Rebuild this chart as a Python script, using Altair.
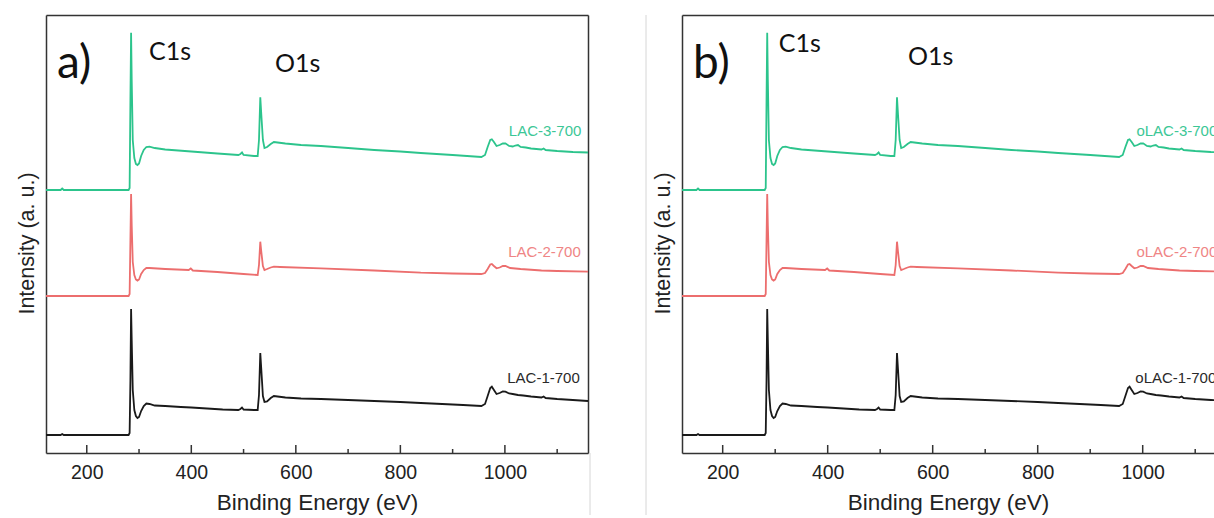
import altair as alt
import pandas as pd

# ---------------- data (binding energy in eV, intensity in a.u.) ----------------
# LAC-1-700 (black, bottom)
black_ev = [122, 150, 153, 156, 280, 282, 283.5, 284.8, 286, 288, 291, 294, 297, 300, 304, 309, 314, 320,
            330, 350, 380, 400, 430, 460, 490, 494, 497, 500, 520, 527, 529.5, 532, 534, 537, 540, 545, 552,
            558, 565, 580, 610, 648, 700, 750, 800, 839, 880, 920, 955, 962, 967, 972, 975, 979, 984, 990,
            996, 1001, 1008, 1015, 1025, 1035, 1050, 1070, 1074, 1078, 1100, 1130, 1159]
black_int = [18, 18, 19, 18, 18, 20, 73, 144, 113, 63, 43, 37, 35, 36, 42, 47, 49.5, 49,
             47.5, 47, 46, 45.5, 44.5, 43.5, 43, 44, 45.5, 43.5, 43, 43, 58, 100, 83, 57, 51, 51.5, 55,
             57, 56.5, 55.5, 54.5, 54, 53, 52, 51, 50, 49, 48, 47, 49, 57, 65, 66.3, 63, 59, 60,
             61.5, 61.3, 59.5, 59, 58, 57.5, 56.5, 55.5, 56.5, 55, 54, 53, 52]

# LAC-2-700 (red, middle)
red_ev = [122, 280, 282, 283.5, 284.8, 286, 288, 291, 294, 297, 300, 304, 309, 314, 320, 350, 395, 399,
          403, 450, 500, 527, 529.5, 532, 534, 537, 540, 545, 552, 558, 570, 648, 750, 839, 900, 955, 962,
          967, 972, 975, 979, 984, 990, 996, 1001, 1010, 1030, 1070, 1100, 1159]
red_int = [157, 157, 159, 213, 259, 228, 191, 178, 173.5, 172.3, 173.5, 179, 183, 185, 185, 184, 183, 184.5,
           182.5, 181, 179, 178, 188, 211.3, 201, 187, 183, 184, 185.5, 186.3, 186, 184.7, 182.5, 180.3, 179.5, 179, 180,
           184, 188.5, 189, 187, 184.7, 185.5, 187, 187, 185, 184, 182.5, 182, 181.3]

# LAC-3-700 (green, top)
green_ev = [122, 150, 153, 156, 280, 282, 283.5, 284.8, 286, 288, 291, 294, 297, 300, 304, 309, 314, 320,
            330, 350, 400, 450, 490, 494, 497, 500, 520, 527, 529.5, 532, 534, 537, 540, 545, 552, 558, 565,
            580, 610, 648, 700, 750, 800, 839, 900, 955, 962, 967, 972, 975, 979, 984, 990, 996, 1001, 1008,
            1015, 1020, 1025, 1030, 1040, 1050, 1070, 1074, 1078, 1100, 1130, 1159]
green_int = [263, 263, 264.5, 263, 263, 265, 353, 420.3, 373, 313, 295, 289, 288, 289.5, 297, 303, 306, 306.3,
             305, 303.5, 301.5, 299.5, 298, 299, 300.5, 298, 297, 297, 313, 355.7, 338, 313, 305, 306, 309, 311, 310.5,
             309.5, 308, 307, 305, 303, 301.5, 300, 298, 296, 298, 306, 313, 313.7, 311, 307, 308, 309.5, 309.7, 307,
             306.5, 307.5, 308, 306, 305.5, 304.5, 303.5, 304.5, 303, 302, 301, 300.5]

series_a = ["LAC-1-700", "LAC-2-700", "LAC-3-700"]
series_b = ["oLAC-1-700", "oLAC-2-700", "oLAC-3-700"]
line_colors = ["#1a1a1a", "#ec6e6e", "#2cc48c"]
label_colors = ["#2a2a2a", "#ef8585", "#3cc796"]

# series label anchors (eV, intensity)
label_ev_a = [1004.5, 1006.4, 1007.5]
label_ev_b = [986, 988, 988]
label_int = [75, 201, 322]

# peak annotations
annot_text_a = ["a)", "C1s", "O1s"]
annot_ev_a = [143, 319, 560]
annot_int_a = [375, 393, 381]
annot_text_b = ["b)", "C1s", "O1s"]
annot_ev_b = [143.5, 307, 553]
annot_int_b = [375, 401, 388]
annot_size = [46, 25, 25]

major_ticks = [200, 400, 600, 800, 1000]
minor_ticks = [300, 500, 700, 900, 1100]

W_A, W_B, H = 542, 532, 438
X_A = [122, 1159]
X_B = [122.5, 1135.8]
Y_DOM = [0, 438]

FONT = "Liberation Sans"
AX = "#333333"


def lines_frame(names):
    rows = []
    for name, evs, ints in zip(names, [black_ev, red_ev, green_ev], [black_int, red_int, green_int]):
        for e, v in zip(evs, ints):
            rows.append({"series": name, "ev": e, "intensity": v})
    return pd.DataFrame(rows)


def panel(names, label_ev, a_text, a_ev, a_int, xdom, width, right_frame, sep_x, sep_y1, sep_y2):
    xs = alt.Scale(domain=xdom, nice=False, zero=False)
    ys = alt.Scale(domain=Y_DOM, nice=False, zero=False)
    bottom_axis = alt.Axis(orient="bottom", values=major_ticks, format="d", ticks=False, tickSize=0,
                           grid=False, domain=True, domainColor=AX, domainWidth=1.5, labelFont=FONT,
                           labelFontSize=19.5, labelColor="#222222", labelPadding=10, labelFlush=False,
                           labelOverlap=False, title="Binding Energy (eV)", titleFont=FONT,
                           titleFontSize=22.5, titleFontWeight="normal", titleColor="#222222",
                           titlePadding=10)
    left_axis = alt.Axis(orient="left", labels=False, ticks=False, grid=False, domain=True,
                         domainColor=AX, domainWidth=1.5, title="Intensity (a. u.)", titleFont=FONT,
                         titleFontSize=21.5, titleFontWeight="normal", titleColor="#222222",
                         titlePadding=8, titleY=228)
    top_axis = alt.Axis(orient="top", labels=False, ticks=False, grid=False, domain=True,
                        domainColor=AX, domainWidth=1.5, title=None)
    right_axis = alt.Axis(orient="right", labels=False, ticks=False, grid=False, domain=True,
                          domainColor=AX, domainWidth=1.5, title=None)

    df = lines_frame(names)
    lines = alt.Chart(df).mark_line(strokeWidth=1.8, clip=True).encode(
        x=alt.X("ev:Q", scale=xs, axis=bottom_axis),
        y=alt.Y("intensity:Q", scale=ys, axis=left_axis),
        color=alt.Color("series:N", scale=alt.Scale(domain=names, range=line_colors), legend=None),
    )

    major = alt.Chart(pd.DataFrame({"v": major_ticks})).mark_rule(color=AX, strokeWidth=1.5).encode(
        x=alt.X("v:Q", scale=xs, axis=top_axis), y=alt.value(H - 8), y2=alt.value(H))
    minor = alt.Chart(pd.DataFrame({"v": minor_ticks})).mark_rule(color=AX, strokeWidth=1.5, clip=True).encode(
        x=alt.X("v:Q", scale=xs, axis=None), y=alt.value(H - 4), y2=alt.value(H))

    ldf = pd.DataFrame({"label": names, "ev": label_ev, "intensity": label_int, "c": label_colors})
    labels = alt.Chart(ldf).mark_text(align="left", baseline="middle", font=FONT, fontSize=15,
                                      clip=True).encode(
        x=alt.X("ev:Q", scale=xs, axis=None),
        y=alt.Y("intensity:Q", scale=ys, axis=right_axis if right_frame else None),
        text="label:N",
        color=alt.Color("c:N", scale=None, legend=None),
    )

    adf = pd.DataFrame({"t": a_text, "ev": a_ev, "intensity": a_int, "fs": annot_size})
    annots = alt.Chart(adf).mark_text(align="left", baseline="alphabetic", font="Lato",
                                      color="#111111").encode(
        x=alt.X("ev:Q", scale=xs, axis=None),
        y=alt.Y("intensity:Q", scale=ys, axis=None),
        text="t:N",
        size=alt.Size("fs:Q", scale=None, legend=None),
    )

    sep = alt.Chart(pd.DataFrame({"k": [0]})).mark_rule(color="#d6d6d6", strokeWidth=1).encode(
        x=alt.value(sep_x), y=alt.value(sep_y1), y2=alt.value(sep_y2))

    return alt.layer(lines, major, minor, labels, annots, sep).resolve_axis(
        x="independent", y="independent").resolve_scale(color="independent").properties(
        width=width, height=H)


pa = panel(series_a, label_ev_a, annot_text_a, annot_ev_a, annot_int_a, X_A, W_A, True, W_A + 2, H, 500)
pb = panel(series_b, label_ev_b, annot_text_b, annot_ev_b, annot_int_b, X_B, W_B, False, -36, 0, 500)

chart = alt.hconcat(pa, pb, spacing=54).properties(
    padding={"left": 16, "top": 14, "right": 0, "bottom": 0},
    background="white",
).configure_view(stroke=None)

chart.save("out.html", embed_options={"renderer": "svg", "actions": False})
